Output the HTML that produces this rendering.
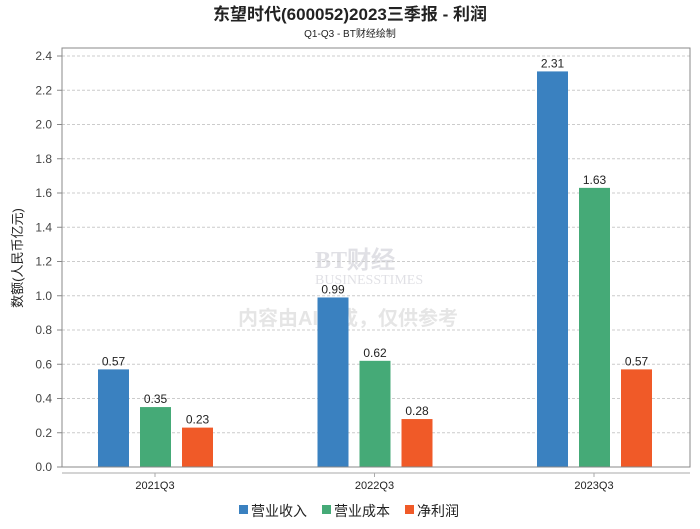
<!DOCTYPE html>
<html><head><meta charset="utf-8"><style>
body{margin:0;background:#fff;font-family:"Liberation Sans","Noto Sans CJK SC",sans-serif}
</style></head><body>
<svg id="c" width="700" height="524" font-family="Liberation Sans, Noto Sans CJK SC, sans-serif">
<text x="350" y="20" text-anchor="middle" font-size="17" font-weight="bold" fill="#222">东望时代(600052)2023三季报 - 利润</text>
<text x="350" y="37" text-anchor="middle" font-size="10" fill="#222">Q1-Q3 - BT财经绘制</text>
<text transform="translate(22,258) rotate(-90)" text-anchor="middle" font-size="13" fill="#222">数额(人民币亿元)</text>
<g opacity="0.25">
<text x="315" y="268" font-size="24" font-family="Liberation Serif, serif" font-weight="bold" fill="#889">BT财经</text>
<text x="315" y="284" font-size="14" font-family="Liberation Serif, serif" fill="#889">BUSINESSTIMES</text>
<text x="348" y="325" text-anchor="middle" font-size="20" font-weight="bold" fill="#999">内容由AI生成，仅供参考</text>
</g>
<g id="grid"></g><g id="bars"></g>
<rect x="62" y="48" width="628" height="419" fill="none" stroke="#888"/>
<line x1="62" y1="473" x2="690" y2="473" stroke="#aaa"/>
<g font-size="14" fill="#222">
<rect x="239" y="505" width="9" height="9" fill="#3a81c0"/><text x="251" y="516">营业收入</text>
<rect x="322" y="505" width="9" height="9" fill="#45aa77"/><text x="334" y="516">营业成本</text>
<rect x="405" y="505" width="9" height="9" fill="#f05a28"/><text x="417" y="516">净利润</text>
</g>
</svg>
<script>
const categories=["2021Q3","2022Q3","2023Q3"];
const revenue=[0.57,0.99,2.31];
const cost=[0.35,0.62,1.63];
const profit=[0.23,0.28,0.57];
const yTicks=[0,0.2,0.4,0.6,0.8,1.0,1.2,1.4,1.6,1.8,2.0,2.2,2.4];
const NS="http://www.w3.org/2000/svg";
const y=v=>467-v/2.4*411;
const xc=i=>155+i*219.5;
const g=document.getElementById('grid'),b=document.getElementById('bars');
function mk(tag,at,parent){const e=document.createElementNS(NS,tag);for(const k in at)e.setAttribute(k,at[k]);parent.appendChild(e);return e;}
yTicks.forEach(t=>{
 if(t>0){const l=mk('line',{x1:62,x2:690,y1:y(t),y2:y(t),stroke:'#ccc','stroke-dasharray':'3,2'},g);
 
 }
 const tx=mk('text',{x:52,y:y(t)+4,'text-anchor':'end','font-size':12,fill:'#444'},g);tx.textContent=t.toFixed(1);
 
 
 mk('line',{x1:57,x2:62,y1:y(t),y2:y(t),stroke:'#888'},g);
});
const series=[[revenue,'#3a81c0',-57],[cost,'#45aa77',-15],[profit,'#f05a28',27]];
categories.forEach((c,i)=>{
 const lb=mk('text',{x:xc(i),y:489,'text-anchor':'middle','font-size':11,fill:'#222'},b);lb.textContent=c;
 
 
 mk('line',{x1:xc(i),x2:xc(i),y1:473,y2:477,stroke:'#aaa'},b);
 series.forEach(([d,col,off],k)=>{
  const r=mk('rect',{x:xc(i)+off,y:y(d[i]),width:31,height:467-y(d[i]),fill:col},b);
  
  
  const v=mk('text',{x:xc(i)+off+15.5,y:y(d[i])-4,'text-anchor':'middle','font-size':12,fill:'#222'},b);v.textContent=d[i].toFixed(2);
  
  
 });
});
</script>
</body></html>
